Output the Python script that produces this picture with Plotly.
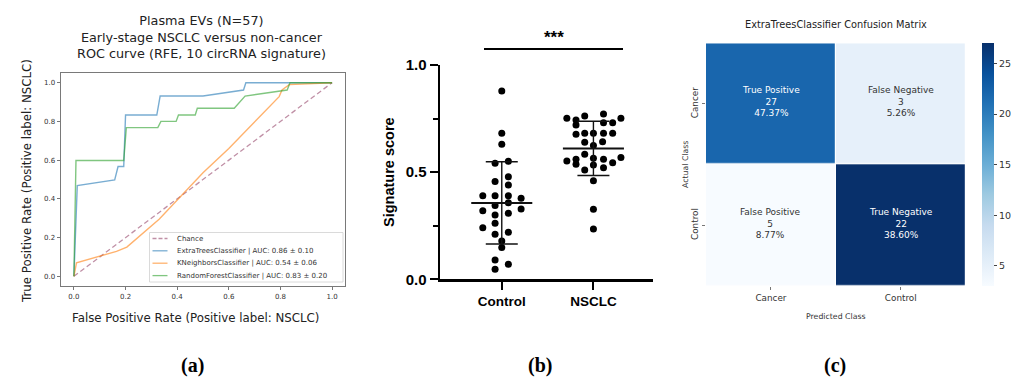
import numpy as np
import plotly.graph_objects as go
import plotly.colors as pc

W, H = 1011, 378

# ---------------- Panel (a): ROC curves ----------------
classifiers = ["ExtraTreesClassifier", "KNeighborsClassifier", "RandomForestClassifier"]
auc_mean = [0.86, 0.54, 0.83]
auc_sd = [0.10, 0.06, 0.20]

et_fpr = [0, 0.013, 0.158, 0.171, 0.193, 0.200, 0.321, 0.334, 0.500, 0.657, 0.666, 1.0]
et_tpr = [0, 0.469, 0.498, 0.567, 0.567, 0.833, 0.833, 0.931, 0.931, 0.962, 1.0, 1.0]

kn_fpr = [0, 0.010, 0.165, 0.205, 0.330, 0.500, 0.600, 0.795, 0.806, 0.834, 1.0]
kn_tpr = [0, 0.070, 0.129, 0.151, 0.295, 0.535, 0.660, 0.928, 0.962, 0.990, 1.0]

rf_fpr = [0, 0.008, 0.193, 0.203, 0.325, 0.337, 0.396, 0.405, 0.470, 0.478, 0.621, 0.663, 0.826, 0.837, 1.0]
rf_tpr = [0, 0.598, 0.598, 0.768, 0.768, 0.800, 0.800, 0.833, 0.833, 0.868, 0.868, 0.931, 0.962, 1.0, 1.0]

chance_x = [0, 1]
chance_y = [0, 1]

# ---------------- Panel (b): signature scores ----------------
groups = ["Control", "NSCLC"]
control_scores = [0.879, 0.681, 0.630, 0.541, 0.551, 0.456, 0.479, 0.440, 0.390, 0.390,
                  0.390, 0.378, 0.344, 0.357, 0.320, 0.328, 0.308, 0.300, 0.261, 0.241,
                  0.210, 0.219, 0.179, 0.148, 0.090, 0.070, 0.047]
nsclc_scores = [0.751, 0.743, 0.762, 0.720, 0.771, 0.731, 0.731, 0.751, 0.677, 0.681,
                0.681, 0.681, 0.681, 0.639, 0.642, 0.624, 0.583, 0.565, 0.552, 0.560,
                0.537, 0.560, 0.568, 0.533, 0.544, 0.521, 0.510, 0.460, 0.327, 0.235]
# beeswarm offsets (layout only)
control_jitter = [0, 0, 0, -0.073, 0.072, -0.073, 0.072, 0.072, -0.207, -0.073,
                  0.072, 0.211, -0.073, 0.072, -0.207, 0.211, 0.072, -0.073, -0.073, -0.207,
                  -0.073, 0.072, 0, 0, -0.073, 0.072, -0.073]
nsclc_jitter = [-0.29, -0.19, -0.095, -0.19, 0.11, 0.11, 0.21, 0.30, -0.19, -0.095,
                0, 0.11, 0.21, -0.095, 0.10, 0, -0.095, 0, -0.29, -0.19,
                -0.19, 0.11, 0.30, 0, 0.21, 0.11, -0.095, 0, 0, 0]
significance = "***"

# ---------------- Panel (c): confusion matrix ----------------
cm_classes = ["Cancer", "Control"]
cm_names = [["True Positive", "False Negative"], ["False Positive", "True Negative"]]
cm_counts = [[27, 3], [5, 22]]

panel_labels = ["(a)", "(b)", "(c)"]

fig = go.Figure()

# ---- (a) ----
roc_colors = ["rgba(31,119,180,0.6)", "rgba(255,127,14,0.6)", "rgba(44,160,44,0.6)"]
chance_color = "#c090a6"
fig.add_trace(go.Scatter(x=chance_x, y=chance_y, mode="lines",
                         line=dict(color=chance_color, width=1.3, dash="5px,3px"),
                         xaxis="x", yaxis="y", showlegend=False, hoverinfo="skip"))
for fx, ty, col in zip([et_fpr, kn_fpr, rf_fpr], [et_tpr, kn_tpr, rf_tpr], roc_colors):
    fig.add_trace(go.Scatter(x=fx, y=ty, mode="lines", line=dict(color=col, width=1.4),
                             xaxis="x", yaxis="y", showlegend=False, hoverinfo="skip"))

ax_a = dict(showline=True, mirror=True, linecolor="#6a6a6a", linewidth=0.9, ticks="outside",
            ticklen=3.5, tickwidth=0.8, tickcolor="#555", showgrid=False, zeroline=False,
            tickfont=dict(family="DejaVu Sans", size=7, color="#333"),
            tickvals=[0, 0.2, 0.4, 0.6, 0.8, 1.0], tickformat=".1f", range=[-0.05, 1.05])

shapes = []
annotations = []

def px_x(p):
    return p / W

def px_y(p):
    return 1 - p / H

# panel (a) titles
annotations.append(dict(text="Plasma EVs (N=57)<br>Early-stage NSCLC versus non-cancer<br>ROC curve (RFE, 10 circRNA signature)",
                        x=px_x(201), y=px_y(37.5), xref="paper", yref="paper", showarrow=False,
                        xanchor="center", yanchor="middle",
                        font=dict(family="DejaVu Sans", size=12.8, color="#222")))
annotations.append(dict(text="False Positive Rate (Positive label: NSCLC)", x=px_x(195), y=px_y(318),
                        xref="paper", yref="paper", showarrow=False, xanchor="center", yanchor="middle",
                        font=dict(family="DejaVu Sans", size=11.8, color="#222")))
annotations.append(dict(text="True Positive Rate (Positive label: NSCLC)", x=px_x(27), y=px_y(181),
                        xref="paper", yref="paper", showarrow=False, xanchor="center", yanchor="middle",
                        textangle=-90, font=dict(family="DejaVu Sans", size=11.8, color="#222")))

# manual legend for (a)
shapes.append(dict(type="rect", xref="paper", yref="paper", x0=px_x(149.5), x1=px_x(343),
                   y0=px_y(282), y1=px_y(232.5), line=dict(color="#d0d0d0", width=0.8),
                   fillcolor="rgba(255,255,255,0.85)"))
legend_labels = ["Chance"] + [f"{c} | AUC: {m:.2f} ± {s:.2f}" for c, m, s in zip(classifiers, auc_mean, auc_sd)]
legend_colors = [chance_color] + roc_colors
legend_y = [238.5, 250.8, 263.2, 275.6]
for i, (lab, col, yy) in enumerate(zip(legend_labels, legend_colors, legend_y)):
    shapes.append(dict(type="line", xref="paper", yref="paper", x0=px_x(152.5), x1=px_x(167.5),
                       y0=px_y(yy), y1=px_y(yy),
                       line=dict(color=col, width=1.3, dash="4px,2px" if i == 0 else "solid")))
    annotations.append(dict(text=lab, x=px_x(175), y=px_y(yy), xref="paper", yref="paper",
                            showarrow=False, xanchor="left", yanchor="middle",
                            font=dict(family="DejaVu Sans", size=7, color="#333")))

# ---- (b) ----
all_groups = [control_scores, nsclc_scores]
all_jit = [control_jitter, nsclc_jitter]
for gi, (vals, jit) in enumerate(zip(all_groups, all_jit)):
    fig.add_trace(go.Scatter(x=[gi + j for j in jit], y=vals, mode="markers",
                             marker=dict(color="black", size=7, line=dict(width=0)),
                             xaxis="x2", yaxis="y2", showlegend=False, hoverinfo="skip"))
for gi, vals in enumerate(all_groups):
    m = float(np.mean(vals))
    s = float(np.std(vals, ddof=1))
    fig.add_trace(go.Scatter(x=[gi - 0.333, gi + 0.333], y=[m, m], mode="lines",
                             line=dict(color="#111", width=2),
                             xaxis="x2", yaxis="y2", showlegend=False, hoverinfo="skip"))
    fig.add_trace(go.Scatter(x=[gi], y=[m], mode="markers", marker=dict(size=1, color="rgba(0,0,0,0)"),
                             error_y=dict(type="data", array=[s], visible=True, color="#111",
                                          thickness=1.4, width=16),
                             xaxis="x2", yaxis="y2", showlegend=False, hoverinfo="skip"))

shapes.append(dict(type="line", xref="paper", yref="paper", x0=px_x(484), x1=px_x(623),
                   y0=px_y(49), y1=px_y(49), line=dict(color="black", width=2.2)))
annotations.append(dict(text=f"<b>{significance}</b>", x=px_x(554), y=px_y(38), xref="paper", yref="paper",
                        showarrow=False, xanchor="center", yanchor="middle",
                        font=dict(family="Liberation Sans", size=17, color="black")))

# ---- (c) ----
counts = np.array(cm_counts)
total = counts.sum()
# the reference colours the cells of the matrix in reversed order
color_z = np.flip(counts)
blues = pc.sequential.Blues
fig.add_trace(go.Heatmap(z=color_z, x=cm_classes, y=cm_classes, colorscale=blues, zmin=3, zmax=27,
                         xgap=1.2, ygap=1.2, xaxis="x3", yaxis="y3", hoverinfo="skip",
                         colorbar=dict(x=px_x(981.7), xanchor="left", xpad=0, ypad=0,
                                       thickness=11.6, thicknessmode="pixels",
                                       len=243, lenmode="pixels", y=px_y(164.7), yanchor="middle",
                                       tickvals=[5, 10, 15, 20, 25], ticks="outside", ticklen=3.5,
                                       tickcolor="#444", outlinewidth=0,
                                       tickfont=dict(family="DejaVu Sans", size=9.5, color="#333"))))
for r in range(2):
    for c in range(2):
        pct = counts[r][c] / total * 100
        dark = color_z[r][c] > 15
        annotations.append(dict(text=f"{cm_names[r][c]}<br>{counts[r][c]}<br>{pct:.2f}%",
                                x=cm_classes[c], y=cm_classes[r], xref="x3", yref="y3", showarrow=False,
                                yshift=2,
                                font=dict(family="DejaVu Sans", size=9, color="white" if dark else "#333")))
annotations.append(dict(text="ExtraTreesClassifier Confusion Matrix", x=px_x(836), y=px_y(24),
                        xref="paper", yref="paper", showarrow=False, xanchor="center", yanchor="middle",
                        font=dict(family="DejaVu Sans", size=9.8, color="#222")))
annotations.append(dict(text="Predicted Class", x=px_x(836), y=px_y(316.5), xref="paper", yref="paper",
                        showarrow=False, xanchor="center", yanchor="middle",
                        font=dict(family="DejaVu Sans", size=7.8, color="#333")))
annotations.append(dict(text="Actual Class", x=px_x(685), y=px_y(165), xref="paper", yref="paper",
                        showarrow=False, xanchor="center", yanchor="middle", textangle=-90,
                        font=dict(family="DejaVu Sans", size=7.8, color="#333")))

# panel labels
for lab, xx in zip(panel_labels, [192, 540, 835]):
    annotations.append(dict(text=f"<b>{lab}</b>", x=px_x(xx), y=px_y(365), xref="paper", yref="paper",
                            showarrow=False, xanchor="center", yanchor="middle",
                            font=dict(family="Liberation Serif", size=20, color="black")))

fig.update_layout(
    width=W, height=H, margin=dict(l=0, r=0, t=0, b=0, autoexpand=False),
    paper_bgcolor="white", plot_bgcolor="white", showlegend=False,
    xaxis=dict(domain=[px_x(61), px_x(345)], anchor="y", **ax_a),
    yaxis=dict(domain=[px_y(286), px_y(73)], anchor="x", **ax_a),
    xaxis2=dict(domain=[px_x(440), px_x(653)], anchor="y2", range=[-0.674, 1.65],
                tickvals=[0, 1], ticktext=[f"<b>{g}</b>" for g in groups],
                showline=True, linecolor="black", linewidth=2.4, ticks="outside", ticklen=8,
                tickwidth=2, tickcolor="black", showgrid=False, zeroline=False,
                tickfont=dict(family="Liberation Sans", size=13.5, color="black")),
    yaxis2=dict(domain=[px_y(279.3), px_y(65)], anchor="x2", range=[0, 1.0],
                tickvals=[0, 0.5, 1.0], ticktext=["<b>0.0</b>", "<b>0.5</b>", "<b>1.0</b>"],
                showline=True, linecolor="black", linewidth=2.4, ticks="outside", ticklen=8,
                tickwidth=2, tickcolor="black", showgrid=False, zeroline=False,
                minor=dict(tickvals=[0.25, 0.75], ticks="outside", ticklen=5, tickwidth=2, tickcolor="black"),
                tickfont=dict(family="Liberation Sans", size=15, color="black"),
                title=dict(text="<b>Signature score</b>", standoff=8,
                           font=dict(family="Liberation Sans", size=14.5, color="black"))),
    xaxis3=dict(domain=[px_x(706), px_x(965.7)], anchor="y3", ticks="outside", ticklen=3, tickcolor="#777",
                showline=False, showgrid=False, zeroline=False,
                tickfont=dict(family="DejaVu Sans", size=8.8, color="#333")),
    yaxis3=dict(domain=[px_y(286), px_y(43.3)], anchor="x3", autorange="reversed", ticks="outside",
                ticklen=3, tickcolor="#777", tickangle=-90, showline=False, showgrid=False, zeroline=False,
                tickfont=dict(family="DejaVu Sans", size=8.8, color="#333")),
    shapes=shapes, annotations=annotations,
)

fig.write_html("out.html", config={"displayModeBar": False, "staticPlot": True},
               post_script="document.body.style.margin='0';document.body.style.overflow='hidden';")
